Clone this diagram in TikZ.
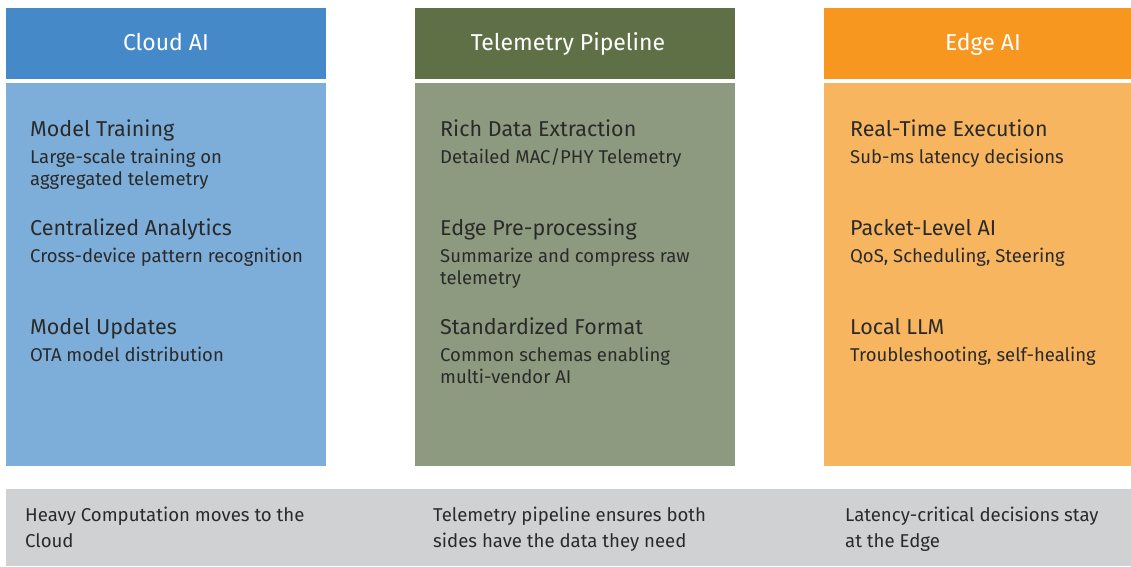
\documentclass[tikz,border=0pt]{standalone}
\usepackage{fontspec}
\setmainfont{Fira Sans}
\definecolor{cloudH}{HTML}{4589C8}
\definecolor{cloudB}{HTML}{7DADD9}
\definecolor{telH}{HTML}{5F7047}
\definecolor{telB}{HTML}{8E9A7F}
\definecolor{edgeH}{HTML}{F7971F}
\definecolor{edgeB}{HTML}{F8B55F}
\definecolor{band}{HTML}{D0D1D3}
\definecolor{ink}{HTML}{2A2A2A}
\begin{document}
\begin{tikzpicture}[x=1pt,y=-1pt,
  hdr/.style={font=\fontsize{23}{26}\selectfont, text=white, inner sep=0, anchor=base},
  ttl/.style={font=\fontsize{21.5}{24}\selectfont, text=ink, anchor=base west, inner sep=0},
  sub/.style={font=\fontsize{18.5}{22}\selectfont, text=ink, anchor=base west, inner sep=0},
  foot/.style={font=\fontsize{18.6}{22}\selectfont, text=ink, anchor=base west, inner sep=0}]
\useasboundingbox (0,0) rectangle (1131,566);
\fill[white] (0,0) rectangle (1131,566);
% columns
\fill[cloudH] (6,8) rectangle (326,79);
\fill[cloudB] (6,83) rectangle (326,466);
\fill[telH] (415,8) rectangle (735,79);
\fill[telB] (415,83) rectangle (735,466);
\fill[edgeH] (824,8) rectangle (1131,79);
\fill[edgeB] (824,83) rectangle (1131,466);
\fill[band] (6,489) rectangle (1131,566);
% headers
\node[hdr] (h1) at (166,50) {Cloud AI};
\node[hdr] (h2) at (568,50) {Telemetry Pipeline};
\node[hdr] (h3) at (983,50) {Edge AI};
% cloud
\node[ttl] (c1) at (30,136) {Model Training};
\node[sub] (c1s) at (30,163) {Large-scale training on};
\node[sub] (c1t) at (30,185) {aggregated telemetry};
\node[ttl] (c2) at (30,235) {Centralized Analytics};
\node[sub] (c2s) at (30,262) {Cross-device pattern recognition};
\node[ttl] (c3) at (30,334) {Model Updates};
\node[sub] (c3s) at (30,361) {OTA model distribution};
% telemetry
\node[ttl] (t1) at (440,136) {Rich Data Extraction};
\node[sub] (t1s) at (440,163) {Detailed MAC/PHY Telemetry};
\node[ttl] (t2) at (440,235) {Edge Pre-processing};
\node[sub] (t2s) at (440,262) {Summarize and compress raw};
\node[sub] (t2t) at (440,284) {telemetry};
\node[ttl] (t3) at (440,334) {Standardized Format};
\node[sub] (t3s) at (440,361) {Common schemas enabling};
\node[sub] (t3t) at (440,383) {multi-vendor AI};
% edge
\node[ttl] (e1) at (850,136) {Real-Time Execution};
\node[sub] (e1s) at (850,163) {Sub-ms latency decisions};
\node[ttl] (e2) at (850,235) {Packet-Level AI};
\node[sub] (e2s) at (850,262) {QoS, Scheduling, Steering};
\node[ttl] (e3) at (850,334) {Local LLM};
\node[sub] (e3s) at (850,361) {Troubleshooting, self-healing};
% footer
\node[foot] (f1) at (25,521) {Heavy Computation moves to the};
\node[foot] (f1b) at (25,547) {Cloud};
\node[foot] (f2) at (433,521) {Telemetry pipeline ensures both};
\node[foot] (f2b) at (433,547) {sides have the data they need};
\node[foot] (f3) at (845,521) {Latency-critical decisions stay};
\node[foot] (f3b) at (845,547) {at the Edge};
\end{tikzpicture}
\end{document}
